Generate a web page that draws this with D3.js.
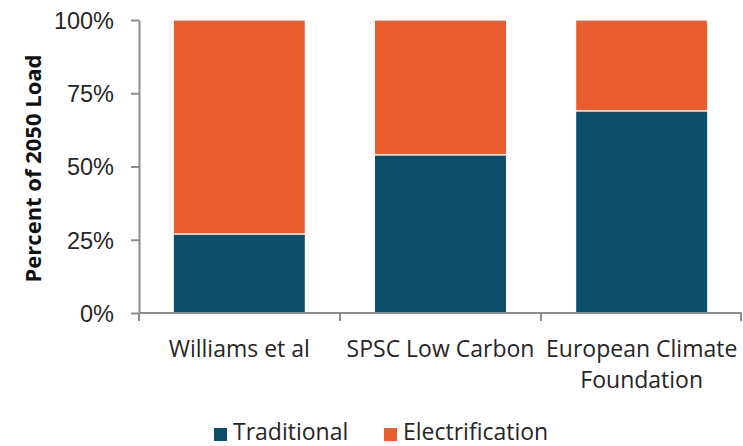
<!DOCTYPE html>
<html>
<head>
<meta charset="utf-8">
<script src="https://cdn.jsdelivr.net/npm/d3@7"></script>
<style>
  html, body { margin: 0; padding: 0; background: #fff; }
  svg { display: block; font-family: "Open Sans", Lato, sans-serif; }
</style>
</head>
<body>
<svg id="chart" width="743" height="446"></svg>
<script>
// Share of 2050 load by study
const categories = [["Williams et al"], ["SPSC Low Carbon"], ["European Climate", "Foundation"]];
const traditional = [27, 54, 69];
const electrification = [73, 46, 31];
const seriesNames = ["Traditional", "Electrification"];
const seriesColors = ["#0B4F6C", "#E95E2F"];
const yTicks = [0, 25, 50, 75, 100];

const svg = d3.select("#chart");
const margin = { left: 139, right: 1, top: 20, bottom: 133 };
const W = 743, H = 446;

const x = d3.scaleBand()
  .domain(d3.range(categories.length))
  .range([margin.left, W - margin.right])
  .paddingInner(0.343).paddingOuter(0.17);
const y = d3.scaleLinear().domain([0, 100]).range([H - margin.bottom, margin.top]);

const axisColor = "#8C8C8C";
const textColor = "#262626";

// stacked bars
const rows = categories.map((c, i) => ({ i, Traditional: traditional[i], Electrification: electrification[i] }));
const stack = d3.stack().keys(seriesNames)(rows);

svg.append("g").selectAll("g").data(stack).join("g")
  .attr("fill", (d, k) => seriesColors[k])
  .selectAll("rect").data(d => d).join("rect")
  .attr("x", d => x(d.data.i))
  .attr("width", x.bandwidth())
  .attr("y", d => y(d[1]))
  .attr("height", d => y(d[0]) - y(d[1]))
  .attr("stroke", "#fff")
  .attr("stroke-width", 1.2);

// y axis
const yAxis = svg.append("g")
  .attr("transform", `translate(${margin.left},0)`)
  .call(d3.axisLeft(y).tickValues(yTicks).tickFormat(d => d + "%").tickSize(8).tickSizeOuter(0));
yAxis.select(".domain").attr("stroke", axisColor).attr("stroke-width", 2);
yAxis.selectAll(".tick line").attr("stroke", axisColor).attr("stroke-width", 2);
yAxis.selectAll(".tick text")
  .attr("fill", textColor).attr("font-size", 23.5).attr("x", -25).attr("dy", "0.36em");

// x axis with category boundary ticks
const x0 = y(0);
svg.append("line")
  .attr("x1", margin.left).attr("x2", W - margin.right)
  .attr("y1", x0).attr("y2", x0)
  .attr("stroke", axisColor).attr("stroke-width", 2);
const step = (W - margin.right - margin.left) / categories.length;
svg.append("g").selectAll("line")
  .data(d3.range(categories.length + 1)).join("line")
  .attr("x1", i => margin.left + i * step - (i === categories.length ? 1 : 0))
  .attr("x2", i => margin.left + i * step - (i === categories.length ? 1 : 0))
  .attr("y1", x0).attr("y2", x0 + 8)
  .attr("stroke", axisColor).attr("stroke-width", 2);

// category labels
svg.append("g").selectAll("text")
  .data(categories).join("text")
  .attr("x", (d, i) => x(i) + x.bandwidth() / 2)
  .attr("y", 357)
  .attr("text-anchor", "middle")
  .attr("fill", textColor).attr("font-size", 23)
  .selectAll("tspan").data(d => d).join("tspan")
  .attr("x", function () { return d3.select(this.parentNode).attr("x"); })
  .attr("dy", (d, j) => j === 0 ? 0 : 31)
  .text(d => d);

// y axis title
svg.append("text")
  .attr("transform", `translate(41,${(y(0) + y(100)) / 2 + 2}) rotate(-90)`)
  .attr("text-anchor", "middle")
  .attr("font-size", 22).attr("font-weight", "bold").attr("fill", "#111")
  .text("Percent of 2050 Load");

// legend
const legend = svg.append("g");
const legendX = [214, 384];
seriesNames.forEach((name, k) => {
  const g = legend.append("g").attr("transform", `translate(${legendX[k]},0)`);
  g.append("rect").attr("x", 0).attr("y", 428).attr("width", 13).attr("height", 13).attr("fill", seriesColors[k]);
  g.append("text").attr("x", 19).attr("y", 439.5).attr("font-size", 23).attr("fill", textColor).text(name);
});
</script>
</body>
</html>
